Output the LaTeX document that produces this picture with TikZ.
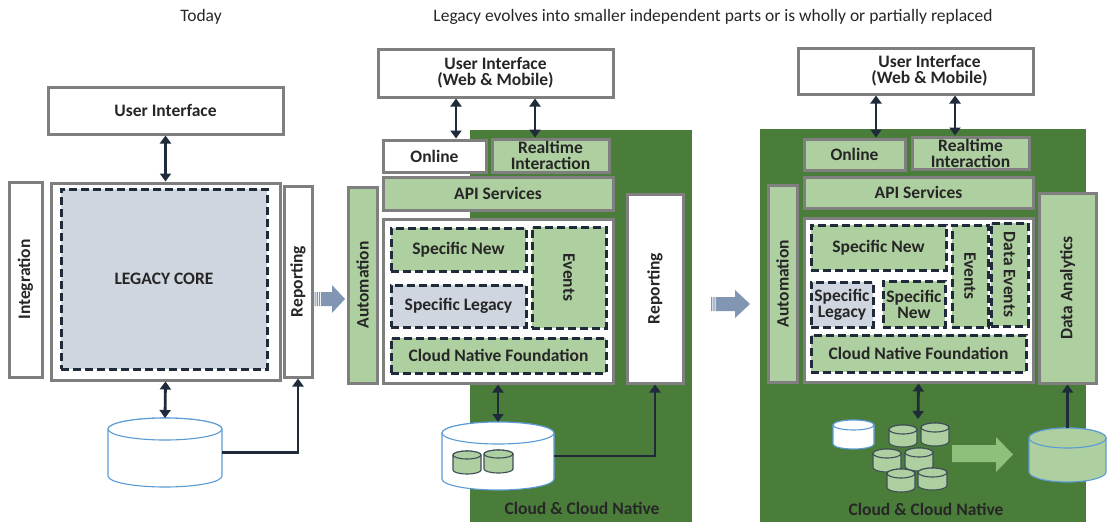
\documentclass[tikz,border=0pt]{standalone}
\usepackage{fontspec}
\setmainfont{Carlito}
\usetikzlibrary{arrows.meta,calc}

\definecolor{cngreen}{HTML}{4B7D3A}
\definecolor{lgreen}{HTML}{AECFA0}
\definecolor{lgray}{HTML}{CFD6E0}
\definecolor{bordergray}{HTML}{7F7F7F}
\definecolor{navy}{HTML}{1F2B3A}
\definecolor{txt}{HTML}{262626}
\definecolor{dbblue}{HTML}{5B9BD5}
\definecolor{dbedge}{HTML}{3F4F5A}
\definecolor{shiftblue}{HTML}{8096B2}
\definecolor{flowgreen}{HTML}{8EBF7B}

% rectangle node spanning two corners (y measured downwards)
\newcommand\blk[7]{\node[#1, minimum width={(#5-#3)*1pt}, minimum height={(#6-#4)*1pt}]
  (#2) at ({(#3+#5)/2},{-(#4+#6)/2}) {#7};}

% database drum drawn inside the box of node #1
\newcommand\drum[4]{%
  \path let \p1=(#1.north west), \p2=(#1.south east), \n1={(\x2-\x1)/2} in
    [fill=#2, draw=#3, line width=1.1pt]
    (\x1,\y1-#4pt) -- (\x1,\y2+#4pt)
    arc[start angle=180, end angle=360, x radius=\n1, y radius=#4pt]
    -- (\x2,\y1-#4pt)
    arc[start angle=0, end angle=180, x radius=\n1, y radius=#4pt] -- cycle;
  \path let \p1=(#1.north west), \p2=(#1.south east), \n1={(\x2-\x1)/2} in
    [fill=#2, draw=#3, line width=1.1pt]
    (\x1+\n1,\y1-#4pt) ellipse[x radius=\n1, y radius=#4pt];
}

\begin{document}
\begin{tikzpicture}[x=1pt,y=1pt,
  lbl/.style={font=\fontsize{17.5}{16}\selectfont\bfseries, text=txt, align=center},
  frame/.style={draw=bordergray, line width=3pt, inner sep=0pt, lbl},
  dsh/.style={draw=navy, line width=3pt, dash pattern=on 8pt off 4pt, inner sep=0pt, lbl},
  slot/.style={inner sep=0pt, outer sep=0pt},
  link/.style={navy, line width=2.8pt, {Triangle[width=11pt,length=8pt]}-{Triangle[width=11pt,length=8pt]}},
  feed/.style={navy, line width=2.8pt, -{Triangle[width=11pt,length=8pt]}},
  hdr/.style={font=\fontsize{17.5}{18}\selectfont, text=txt},
  cloud/.style={font=\fontsize{17.5}{18}\selectfont\bfseries, text=txt},
]
\useasboundingbox (0,0) rectangle (1110,-522);

% ---------- headings ----------
\node[hdr] (h1) at (201,-17) {Today};
\node[hdr] (h2) at (713,-17) {Legacy evolves into smaller independent parts or is wholly or partially replaced};

% ---------- today: monolith ----------
\blk{frame, fill=white}{ui1}{48}{87}{283}{134}{User Interface}
\blk{frame, fill=white, label={[lbl,rotate=90]center:Integration}}{int1}{9}{182}{42}{377}{}
\blk{frame, fill=white}{core1}{51}{183}{280}{380}{}
\blk{dsh, fill=lgray}{legacy1}{61}{189}{267}{369}{LEGACY CORE}
\blk{frame, fill=white, label={[lbl,rotate=90]center:Reporting}}{rep1}{284}{186}{312}{377}{}
\blk{slot}{db1}{108}{418}{222}{487}{}
\drum{db1}{white}{dbblue}{11}
\draw[link] (ui1.south) -- (core1.north);
\draw[link] (core1.south) -- (db1.north);
\draw[feed] (db1.east) -| (rep1.south);

% ---------- shift arrows ----------
\fill[shiftblue] (314.5,-292) rectangle (315.7,-306) (316.7,-292) rectangle (317.9,-306) (318.9,-292) rectangle (320.1,-306);
\fill[shiftblue] (321,-292) -- (332,-292) -- (332,-285) -- (345,-299) -- (332,-313) -- (332,-306) -- (321,-306) -- cycle;
\fill[shiftblue] (711,-297) rectangle (712.3,-311) (713.3,-297) rectangle (714.6,-311);
\fill[shiftblue] (715.6,-297) -- (735,-297) -- (735,-290) -- (750,-304) -- (735,-318) -- (735,-311) -- (715.6,-311) -- cycle;

% ---------- evolving: partly cloud ----------
\fill[cngreen] (470,-130) rectangle (692,-522);
\blk{frame, fill=white}{ui2}{378}{49}{613}{97}{User Interface\\(Web \& Mobile)}
\blk{frame, fill=white}{online2}{383}{140}{486}{172}{Online}
\blk{frame, fill=lgreen}{rt2}{492}{139}{609}{172}{Realtime\\Interaction}
\blk{frame, fill=lgreen}{api2}{383}{177}{613}{210}{API Services}
\blk{frame, fill=lgreen, label={[lbl,rotate=90]center:Automation}}{auto2}{348}{187}{377}{383}{}
\blk{frame, fill=white}{core2}{383}{219}{613}{383}{}
\blk{dsh, fill=lgreen}{sn2}{391}{228}{526}{271}{Specific New}
\blk{dsh, fill=lgray}{sl2}{391}{285}{526}{327}{Specific Legacy}
\blk{dsh, fill=lgreen, label={[lbl,rotate=-90]center:Events}}{ev2}{532}{227}{606}{328}{}
\blk{dsh, fill=lgreen}{cnf2}{391}{338}{606}{373}{Cloud Native Foundation}
\blk{frame, fill=white, label={[lbl,rotate=90]center:Reporting}}{rep2}{627}{194}{683}{383}{}
\blk{slot}{db2}{442}{422}{554}{490}{}
\drum{db2}{white}{dbblue}{11}
\blk{slot}{db2a}{453}{451}{481}{474}{}
\drum{db2a}{lgreen}{dbedge}{4}
\blk{slot}{db2b}{484}{450}{513}{473}{}
\drum{db2b}{lgreen}{dbedge}{4}
\draw[link] (456,0 |- ui2.south) -- (456,0 |- online2.north);
\draw[link] (535,0 |- ui2.south) -- (535,0 |- rt2.north);
\draw[link] (core2.south) -- (db2.north);
\draw[feed] (db2.east) -| (rep2.south);
\node[cloud] (cn2) at (582,-508) {Cloud \& Cloud Native};

% ---------- target: cloud native ----------
\fill[cngreen] (760,-129) rectangle (1086,-522);
\blk{frame, fill=white, label={[lbl,xshift=14pt]center:User Interface\\(Web \& Mobile)}}{ui3}{798}{48}{1033}{94}{}
\blk{frame, fill=lgreen}{online3}{804}{139}{905}{170}{Online}
\blk{frame, fill=lgreen}{rt3}{912}{137}{1029}{169}{Realtime\\Interaction}
\blk{frame, fill=lgreen}{api3}{804}{177}{1033}{208}{API Services}
\blk{frame, fill=lgreen, label={[lbl,rotate=90]center:Automation}}{auto3}{768}{185}{797}{382}{}
\blk{frame, fill=white}{core3}{804}{218}{1033}{382}{}
\blk{dsh, fill=lgreen}{sn3}{811}{225}{946}{270}{Specific New}
\blk{dsh, fill=lgray}{sl3}{811}{282}{873}{327}{Specific\\Legacy}
\blk{dsh, fill=lgreen}{sn3b}{883}{281}{945}{327}{Specific\\New}
\blk{dsh, fill=lgreen, label={[lbl,rotate=-90]center:Events}}{ev3}{952}{225}{988}{327}{}
\blk{dsh, fill=lgreen, label={[lbl,rotate=-90]center:Data Events}}{de3}{991}{223}{1028}{326}{}
\blk{dsh, fill=lgreen}{cnf3}{811}{335}{1026}{372}{Cloud Native Foundation}
\blk{frame, fill=lgreen, label={[lbl,rotate=90]center:Data Analytics}}{da3}{1039}{193}{1096}{383}{}

\blk{slot}{db3w}{833}{420}{874}{449}{}
\drum{db3w}{white}{dbblue}{5}
\blk{slot}{db3a}{889}{425}{917}{447}{}
\drum{db3a}{lgreen}{dbedge}{4.5}
\blk{slot}{db3b}{921}{423}{949}{446}{}
\drum{db3b}{lgreen}{dbedge}{4.5}
\blk{slot}{db3c}{873}{449}{901}{472}{}
\drum{db3c}{lgreen}{dbedge}{4.5}
\blk{slot}{db3d}{905}{448}{933}{471}{}
\drum{db3d}{lgreen}{dbedge}{4.5}
\blk{slot}{db3e}{887}{469}{915}{492}{}
\drum{db3e}{lgreen}{dbedge}{4.5}
\blk{slot}{db3f}{918}{468}{947}{490}{}
\drum{db3f}{lgreen}{dbedge}{4.5}
\fill[flowgreen] (952,-445) -- (996,-445) -- (996,-437) -- (1013,-454.5) -- (996,-472) -- (996,-462) -- (952,-462) -- cycle;
\blk{slot}{db3big}{1029}{428}{1106}{482}{}
\drum{db3big}{lgreen}{dbblue}{10}

\coordinate (store3) at (918,-419);
\draw[link] (876,0 |- ui3.south) -- (876,0 |- online3.north);
\draw[link] (955,0 |- ui3.south) -- (955,0 |- rt3.north);
\draw[link] (core3.south) -- (store3);
\draw[feed] (db3big.north) -- (da3.south);
\node[cloud] (cn3) at (926,-509) {Cloud \& Cloud Native};
\end{tikzpicture}
\end{document}
